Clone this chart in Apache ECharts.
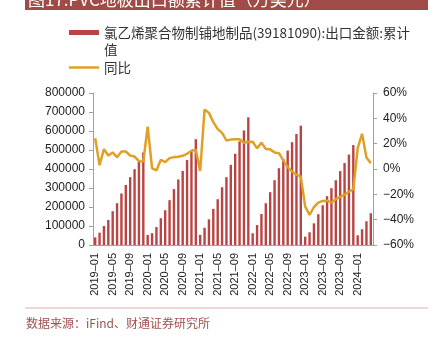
<!DOCTYPE html>
<html><head><meta charset="utf-8">
<script src="https://cdn.jsdelivr.net/npm/echarts@6/dist/echarts.min.js"></script>
<style>html,body{margin:0;padding:0;background:#fff}#c{width:435px;height:337px}</style>
</head><body><div id="c"></div>
<script>
const categories = [
'2019-01','2019-02','2019-03','2019-04','2019-05','2019-06','2019-07','2019-08','2019-09','2019-10','2019-11','2019-12',
'2020-01','2020-02','2020-03','2020-04','2020-05','2020-06','2020-07','2020-08','2020-09','2020-10','2020-11','2020-12',
'2021-01','2021-02','2021-03','2021-04','2021-05','2021-06','2021-07','2021-08','2021-09','2021-10','2021-11','2021-12',
'2022-01','2022-02','2022-03','2022-04','2022-05','2022-06','2022-07','2022-08','2022-09','2022-10','2022-11','2022-12',
'2023-01','2023-02','2023-03','2023-04','2023-05','2023-06','2023-07','2023-08','2023-09','2023-10','2023-11','2023-12',
'2024-01','2024-02','2024-03','2024-04'];
const exportValue = [
40000,65000,100000,132000,178000,220000,271000,316000,357000,399000,440000,487000,
53000,62000,95000,141000,183000,236000,294000,345000,390000,447000,492000,557000,
53000,91000,135000,190000,241000,304000,357000,422000,480000,545000,603000,672000,
62000,105000,163000,220000,278000,341000,404000,452000,497000,541000,584000,628000,
44000,67000,114000,162000,209000,257000,299000,341000,389000,431000,476000,526000,
51000,83000,125000,167000];
const yoy = [
24.3,3.0,15.7,10.7,13.1,9.3,13.8,13.8,10.6,9.8,6.2,5.9,
33.5,0.7,-1.2,7.3,5.4,8.6,9.4,9.6,10.4,12.0,14.4,15.2,
-1.5,47.0,44.3,37.0,31.5,28.5,22.5,23.2,23.4,23.4,20.8,21.3,
21.5,16.3,20.8,15.8,15.5,13.0,12.5,6.8,1.5,-2.0,-4.5,-6.0,
-29.7,-36.3,-30.0,-26.5,-25.2,-25.1,-26.4,-23.8,-22.0,-20.2,-18.0,-16.0,
16.5,27.8,9.0,4.6];
const leftTicks = {min:0, max:800000, interval:100000};
const rightTicks = {min:-60, max:60, interval:20};
const barName = '氯乙烯聚合物制铺地制品(39181090):出口金额:累计\n值';
const lineName = '同比';
const titleText = '图17:PVC地板出口额累计值（万美元）';
const sourceText = '数据来源：iFind、财通证券研究所';

const chart = echarts.init(document.getElementById('c'));
const axisFont = 'Liberation Sans, Arial, sans-serif';
const cjkFont = '"Noto Sans CJK SC", sans-serif';
chart.setOption({
  animation:false,
  backgroundColor:'#fff',
  grid:{left:93, right:62, top:93, bottom:92, containLabel:false},
  legend:[{
    orient:'vertical', left:64, top:19, itemWidth:30, itemHeight:34, itemGap:0,
    data:[{name:barName, icon:'path://M0,6L30,6L30,11L0,11Z M0,0 M0,34'}],
    textStyle:{fontFamily:cjkFont, fontSize:13.5, color:'#333', lineHeight:17}
  },{
    orient:'vertical', left:64, top:54, itemWidth:30, itemHeight:2.5,
    data:[{name:lineName, icon:'rect'}],
    textStyle:{fontFamily:cjkFont, fontSize:13.5, color:'#333', lineHeight:17}
  }],
  xAxis:{
    type:'category', data:categories, boundaryGap:true,
    axisLine:{lineStyle:{color:'#A0A0A0'}},
    axisTick:{show:false},
    axisLabel:{interval:3, rotate:90, fontSize:11, color:'#222', fontFamily:axisFont, margin:8,
      formatter:v=>v.replace('-','\u2013')}
  },
  yAxis:[{
    type:'value', min:leftTicks.min, max:leftTicks.max, interval:leftTicks.interval,
    axisLine:{show:true, lineStyle:{color:'#A0A0A0'}},
    axisTick:{show:true, length:4, lineStyle:{color:'#A0A0A0'}},
    splitLine:{show:false},
    axisLabel:{fontSize:12, color:'#222', fontFamily:axisFont, margin:8, formatter:v=>String(v)}
  },{
    type:'value', min:rightTicks.min, max:rightTicks.max, interval:rightTicks.interval,
    position:'right',
    axisLine:{show:true, lineStyle:{color:'#A0A0A0'}},
    axisTick:{show:true, length:4, lineStyle:{color:'#A0A0A0'}},
    splitLine:{show:false},
    axisLabel:{fontSize:12, color:'#222', fontFamily:axisFont, margin:10,
      formatter:v=> (v<0 ? '\u2212'+Math.abs(v) : v)+'%'}
  }],
  series:[{
    name:barName, type:'bar', data:exportValue, yAxisIndex:0,
    barCategoryGap:'45%',
    itemStyle:{color:'#BA4443'}
  },{
    name:lineName, type:'line', data:yoy, yAxisIndex:1,
    symbol:'none', smooth:false,
    lineStyle:{color:'#E0A026', width:2.5},
    itemStyle:{color:'#E0A026'}
  }],
  graphic:[
    {type:'rect', shape:{x:25, y:0, width:403, height:10}, style:{fill:'#A04B47'}},
    {type:'text', style:{x:28, y:8, text:titleText, fill:'#fff', font:'17px "Noto Sans CJK SC", sans-serif', textVerticalAlign:'bottom'}},
    {type:'rect', shape:{x:25, y:307.5, width:403, height:1}, style:{fill:'#DDB2B0'}},
    {type:'text', style:{x:26, y:323, text:sourceText, fill:'#A0524E', font:'12px "Noto Sans CJK SC", sans-serif', textVerticalAlign:'middle'}}
  ]
});
</script></body></html>
